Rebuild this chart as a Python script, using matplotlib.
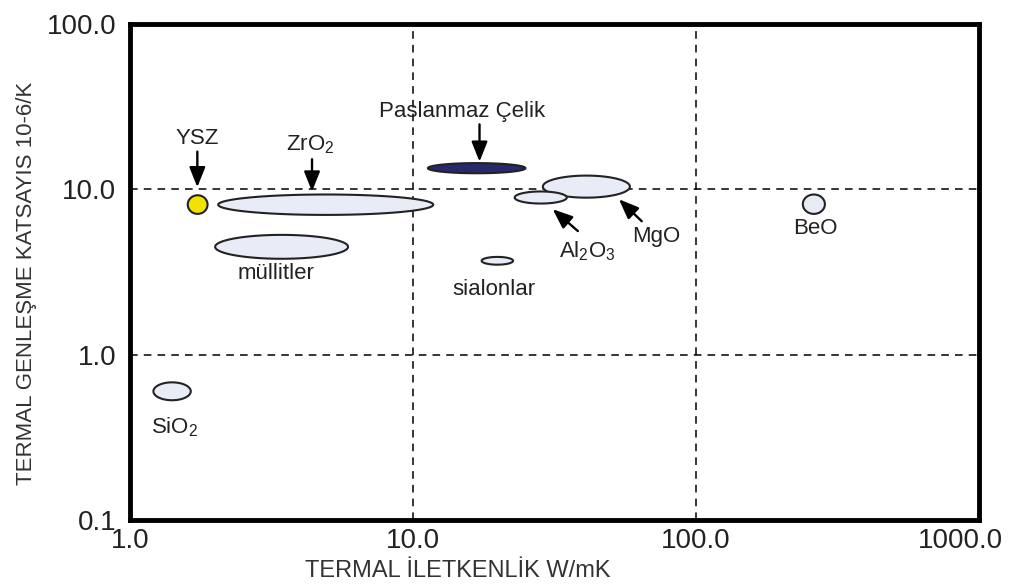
import numpy as np
import matplotlib.pyplot as plt
from matplotlib.transforms import ScaledTranslation

plt.rcParams['font.family'] = ['Liberation Sans', 'DejaVu Sans']
plt.rcParams['mathtext.fontset'] = 'custom'
plt.rcParams['mathtext.rm'] = 'Liberation Sans'
plt.rcParams['mathtext.it'] = 'Liberation Sans'

# material regions: thermal conductivity range (W/mK) and expansion range (10-6/K)
materials = ['YSZ', 'ZrO2', 'müllitler', 'Paslanmaz Çelik', 'MgO', 'Al2O3', 'sialonlar', 'BeO', 'SiO2']
k_lo = [1.60, 2.05, 2.0, 11.3, 28.8, 22.9, 17.5, 239, 1.21]
k_hi = [1.88, 11.8, 5.9, 25.0, 58.5, 35.0, 22.6, 286, 1.64]
a_lo = [7.1, 7.0, 3.8, 12.5, 8.9, 8.2, 3.5, 7.1, 0.53]
a_hi = [9.2, 9.3, 5.3, 14.4, 12.1, 9.7, 3.9, 9.3, 0.68]
fills = ['#f2e200', '#e8ecf7', '#e8ecf7', '#28286e', '#e8ecf7', '#e8ecf7', '#e8ecf7', '#e8ecf7', '#e8ecf7']

# labels: text, text position, arrow tail/head (None = no arrow)
label_text = ['YSZ', 'ZrO$_2$', 'müllitler', 'Paslanmaz Çelik', 'MgO', 'Al$_2$O$_3$', 'sialonlar', 'BeO', 'SiO$_2$']
label_xy = [(1.73, 20.3), (4.33, 18.7), (3.28, 3.08), (14.9, 29.5), (72.2, 5.21),
            (41.5, 4.24), (19.3, 2.47), (265, 5.82), (1.44, 0.363)]
arrow_from = [(1.73, 16.9), (4.4, 15.2), None, (17.2, 24.7), (64.4, 6.41),
              (38.3, 5.59), None, None, None]
arrow_to = [(1.73, 10.3), (4.4, 9.7), None, (17.2, 14.7), (53.5, 8.7),
            (31.2, 7.58), None, None, None]

xticks = [1, 10, 100, 1000]
yticks = [0.1, 1, 10, 100]

fig = plt.figure(figsize=(10.1, 5.85), dpi=100)
ax = fig.add_axes([0.1287, 0.1111, 0.8403, 0.848])
ax.set_xscale('log')
ax.set_yscale('log')
ax.set_xlim(1, 1000)
ax.set_ylim(0.1, 100)

# grid lines at the inner decades
for v in [10, 100]:
    ax.axvline(v, color='black', lw=1.1, ls=(0, (5, 4)), zorder=1)
for v in [1, 10]:
    ax.axhline(v, color='black', lw=1.1, ls=(0, (5, 4)), zorder=1)

# ellipses drawn in log space
t = np.linspace(0, 2 * np.pi, 200)
for i in range(len(materials)):
    lx0, lx1 = np.log10(k_lo[i]), np.log10(k_hi[i])
    ly0, ly1 = np.log10(a_lo[i]), np.log10(a_hi[i])
    cx, cy = (lx0 + lx1) / 2, (ly0 + ly1) / 2
    rx, ry = (lx1 - lx0) / 2, (ly1 - ly0) / 2
    xs = 10 ** (cx + rx * np.cos(t))
    ys = 10 ** (cy + ry * np.sin(t))
    ax.fill(xs, ys, facecolor=fills[i], edgecolor='#222222', lw=1.5, zorder=3)

for i in range(len(materials)):
    ax.text(label_xy[i][0], label_xy[i][1], label_text[i], fontsize=16,
            color='#222222', ha='center', va='center', zorder=4)
    if arrow_from[i] is not None:
        ax.annotate('', xy=arrow_to[i], xytext=arrow_from[i],
                    arrowprops=dict(arrowstyle='-|>,head_length=0.55,head_width=0.22',
                                    color='black', lw=1.7, mutation_scale=22,
                                    shrinkA=0, shrinkB=0),
                    zorder=4)

for s in ax.spines.values():
    s.set_linewidth(3.5)
    s.set_color('black')

ax.set_xticks(xticks)
ax.set_yticks(yticks)
ax.set_xticklabels(['%.1f' % v for v in xticks])
ax.set_yticklabels(['%.1f' % v for v in yticks])
ax.minorticks_off()
ax.tick_params(length=0, labelsize=20, labelcolor='#222222')
ax.tick_params(axis='x', pad=6)
ax.tick_params(axis='y', pad=10)

# last x label sits inside the figure edge
last = ax.get_xticklabels()[-1]
last.set_transform(last.get_transform() + ScaledTranslation(-0.18, 0, fig.dpi_scale_trans))

ax.set_xlabel('TERMAL İLETKENLİK W/mK', fontsize=17, color='#333333')
ax.xaxis.set_label_coords(0.386, -0.08)
ax.set_ylabel('TERMAL GENLEŞME KATSAYIS 10-6/K', fontsize=16, color='#333333')
ax.yaxis.set_label_coords(-0.110, 0.476)

fig.savefig('out.png', dpi=100)
